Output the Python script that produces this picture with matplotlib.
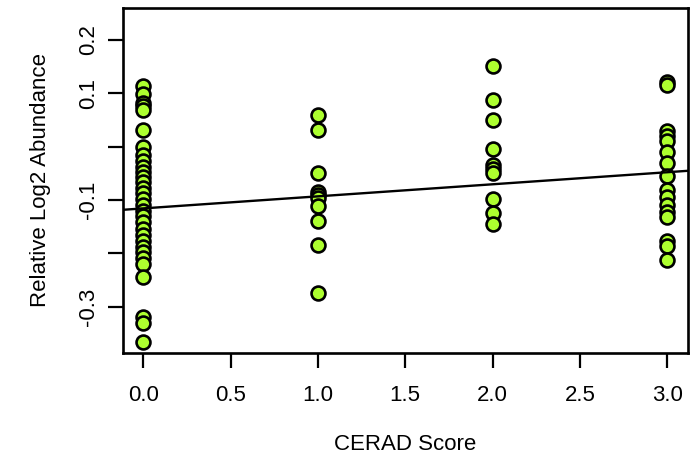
import numpy as np
import matplotlib
matplotlib.use("Agg")
import matplotlib.pyplot as plt

plt.rcParams["font.family"] = ["Liberation Sans", "DejaVu Sans"]

# Relative log2 abundance per CERAD score group
cerad_0 = [0.114, 0.099, 0.082, 0.076, 0.069, 0.031, -0.001, -0.015, -0.027,
           -0.038, -0.047, -0.057, -0.066, -0.077, -0.087, -0.098, -0.109,
           -0.121, -0.130, -0.141, -0.154, -0.166, -0.177, -0.188, -0.198,
           -0.209, -0.220, -0.244, -0.319, -0.331, -0.366]
cerad_1 = [0.059, 0.031, -0.049, -0.085, -0.091, -0.096, -0.111, -0.139,
           -0.184, -0.275]
cerad_2 = [0.151, 0.088, 0.050, -0.004, -0.034, -0.042, -0.049, -0.098,
           -0.124, -0.145]
cerad_3 = [0.121, 0.116, 0.029, 0.020, 0.011, -0.010, -0.031, -0.055,
           -0.081, -0.094, -0.109, -0.122, -0.132, -0.177, -0.186, -0.212]

scores = [0.0, 1.0, 2.0, 3.0]
groups = [cerad_0, cerad_1, cerad_2, cerad_3]

# Fitted trend (model estimate)
fit_intercept = -0.116
fit_slope = 0.0226

x_ticks = [0.0, 0.5, 1.0, 1.5, 2.0, 2.5, 3.0]
x_tick_labels = ["0.0", "0.5", "1.0", "1.5", "2.0", "2.5", "3.0"]
y_ticks = [0.2, 0.1, 0.0, -0.1, -0.2, -0.3]
y_tick_labels = ["0.2", "0.1", "", "-0.1", "", "-0.3"]

x = np.concatenate([[s] * len(g) for s, g in zip(scores, groups)])
y = np.concatenate(groups)

fig = plt.figure(figsize=(6.99, 4.59), dpi=100)
ax = fig.add_axes([0.176, 0.231, 0.808, 0.752])

ax.scatter(x, y, s=100, facecolor="#ADFF2F", edgecolor="black",
           linewidth=1.9, zorder=3)

ax.axline((0.0, fit_intercept), slope=fit_slope, color="black", lw=1.7,
          zorder=4)

ax.set_xlim(-0.116, 3.118)
ax.set_ylim(-0.387, 0.260)

ax.set_xticks(x_ticks)
ax.set_xticklabels(x_tick_labels, fontsize=16)
ax.set_yticks(y_ticks)
ax.set_yticklabels(y_tick_labels, fontsize=16, rotation=90, va="center")

ax.tick_params(axis="both", direction="out", length=11, width=1.6,
               color="black")
ax.tick_params(axis="x", pad=12)
ax.tick_params(axis="y", pad=6)
for sp in ax.spines.values():
    sp.set_linewidth(1.9)

ax.set_xlabel("CERAD Score", fontsize=16, labelpad=20)
ax.set_ylabel("Relative Log2 Abundance", fontsize=16, labelpad=20)

fig.savefig("out.png", dpi=100)
